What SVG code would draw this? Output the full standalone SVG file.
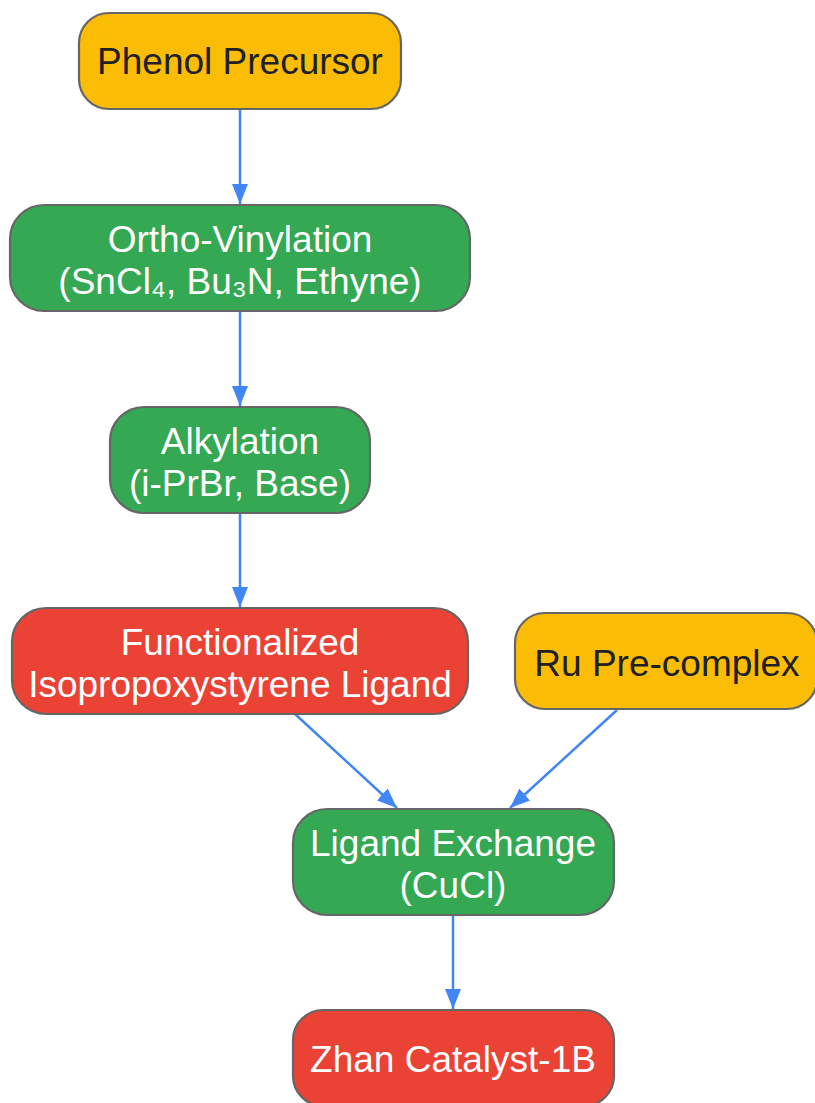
<svg xmlns="http://www.w3.org/2000/svg" width="815" height="1103" viewBox="0 0 815 1103">
<defs>
<style>
.n rect{stroke:#666;stroke-width:2.2}
.y rect{fill:#FBBC05}
.g rect{fill:#34A853}
.r rect{fill:#EA4335}
text{font-family:"Liberation Sans",Arial,"DejaVu Sans",sans-serif;font-size:37px;text-anchor:middle}
.y text{fill:#202124}
.g text,.r text{fill:#fff}
.e line{stroke:#4285F4;stroke-width:2.5;marker-end:url(#a)}
</style>
<marker id="a" viewBox="0 0 20 16" refX="20" refY="8" markerWidth="20" markerHeight="16" markerUnits="userSpaceOnUse" orient="auto">
<path d="M0,0L20,8L0,16Z" fill="#4285F4"/>
</marker>
</defs>
<g id="edges" class="e">
<line x1="240" y1="110" x2="240" y2="204"/>
<line x1="240" y1="312" x2="240" y2="406"/>
<line x1="240" y1="514" x2="240" y2="607"/>
<line x1="295" y1="714" x2="397" y2="808"/>
<line x1="617" y1="710" x2="510" y2="808"/>
<line x1="453" y1="916" x2="453" y2="1009"/>
</g>
<g id="phenol" class="n y"><rect x="79" y="13" width="322" height="96" rx="30"/><text x="240" y="74">Phenol Precursor</text></g>
<g id="vinylation" class="n g"><rect x="10" y="205" width="460" height="106" rx="34"/><text x="240" y="252">Ortho-Vinylation</text><text x="240" y="294">(SnCl₄, Bu₃N, Ethyne)</text></g>
<g id="alkylation" class="n g"><rect x="110" y="407" width="260" height="106" rx="34"/><text x="240" y="454">Alkylation</text><text x="240" y="496">(i-PrBr, Base)</text></g>
<g id="ligand" class="n r"><rect x="12" y="608" width="456" height="106" rx="34"/><text x="240" y="655">Functionalized</text><text x="240" y="697">Isopropoxystyrene Ligand</text></g>
<g id="ru" class="n y"><rect x="515" y="613" width="302" height="96" rx="30"/><text x="667" y="676">Ru Pre-complex</text></g>
<g id="exchange" class="n g"><rect x="293" y="809" width="321" height="106" rx="34"/><text x="453" y="856">Ligand Exchange</text><text x="453" y="898">(CuCl)</text></g>
<g id="zhan" class="n r"><rect x="293" y="1010" width="321" height="96" rx="30"/><text x="453" y="1072">Zhan Catalyst-1B</text></g>
</svg>
